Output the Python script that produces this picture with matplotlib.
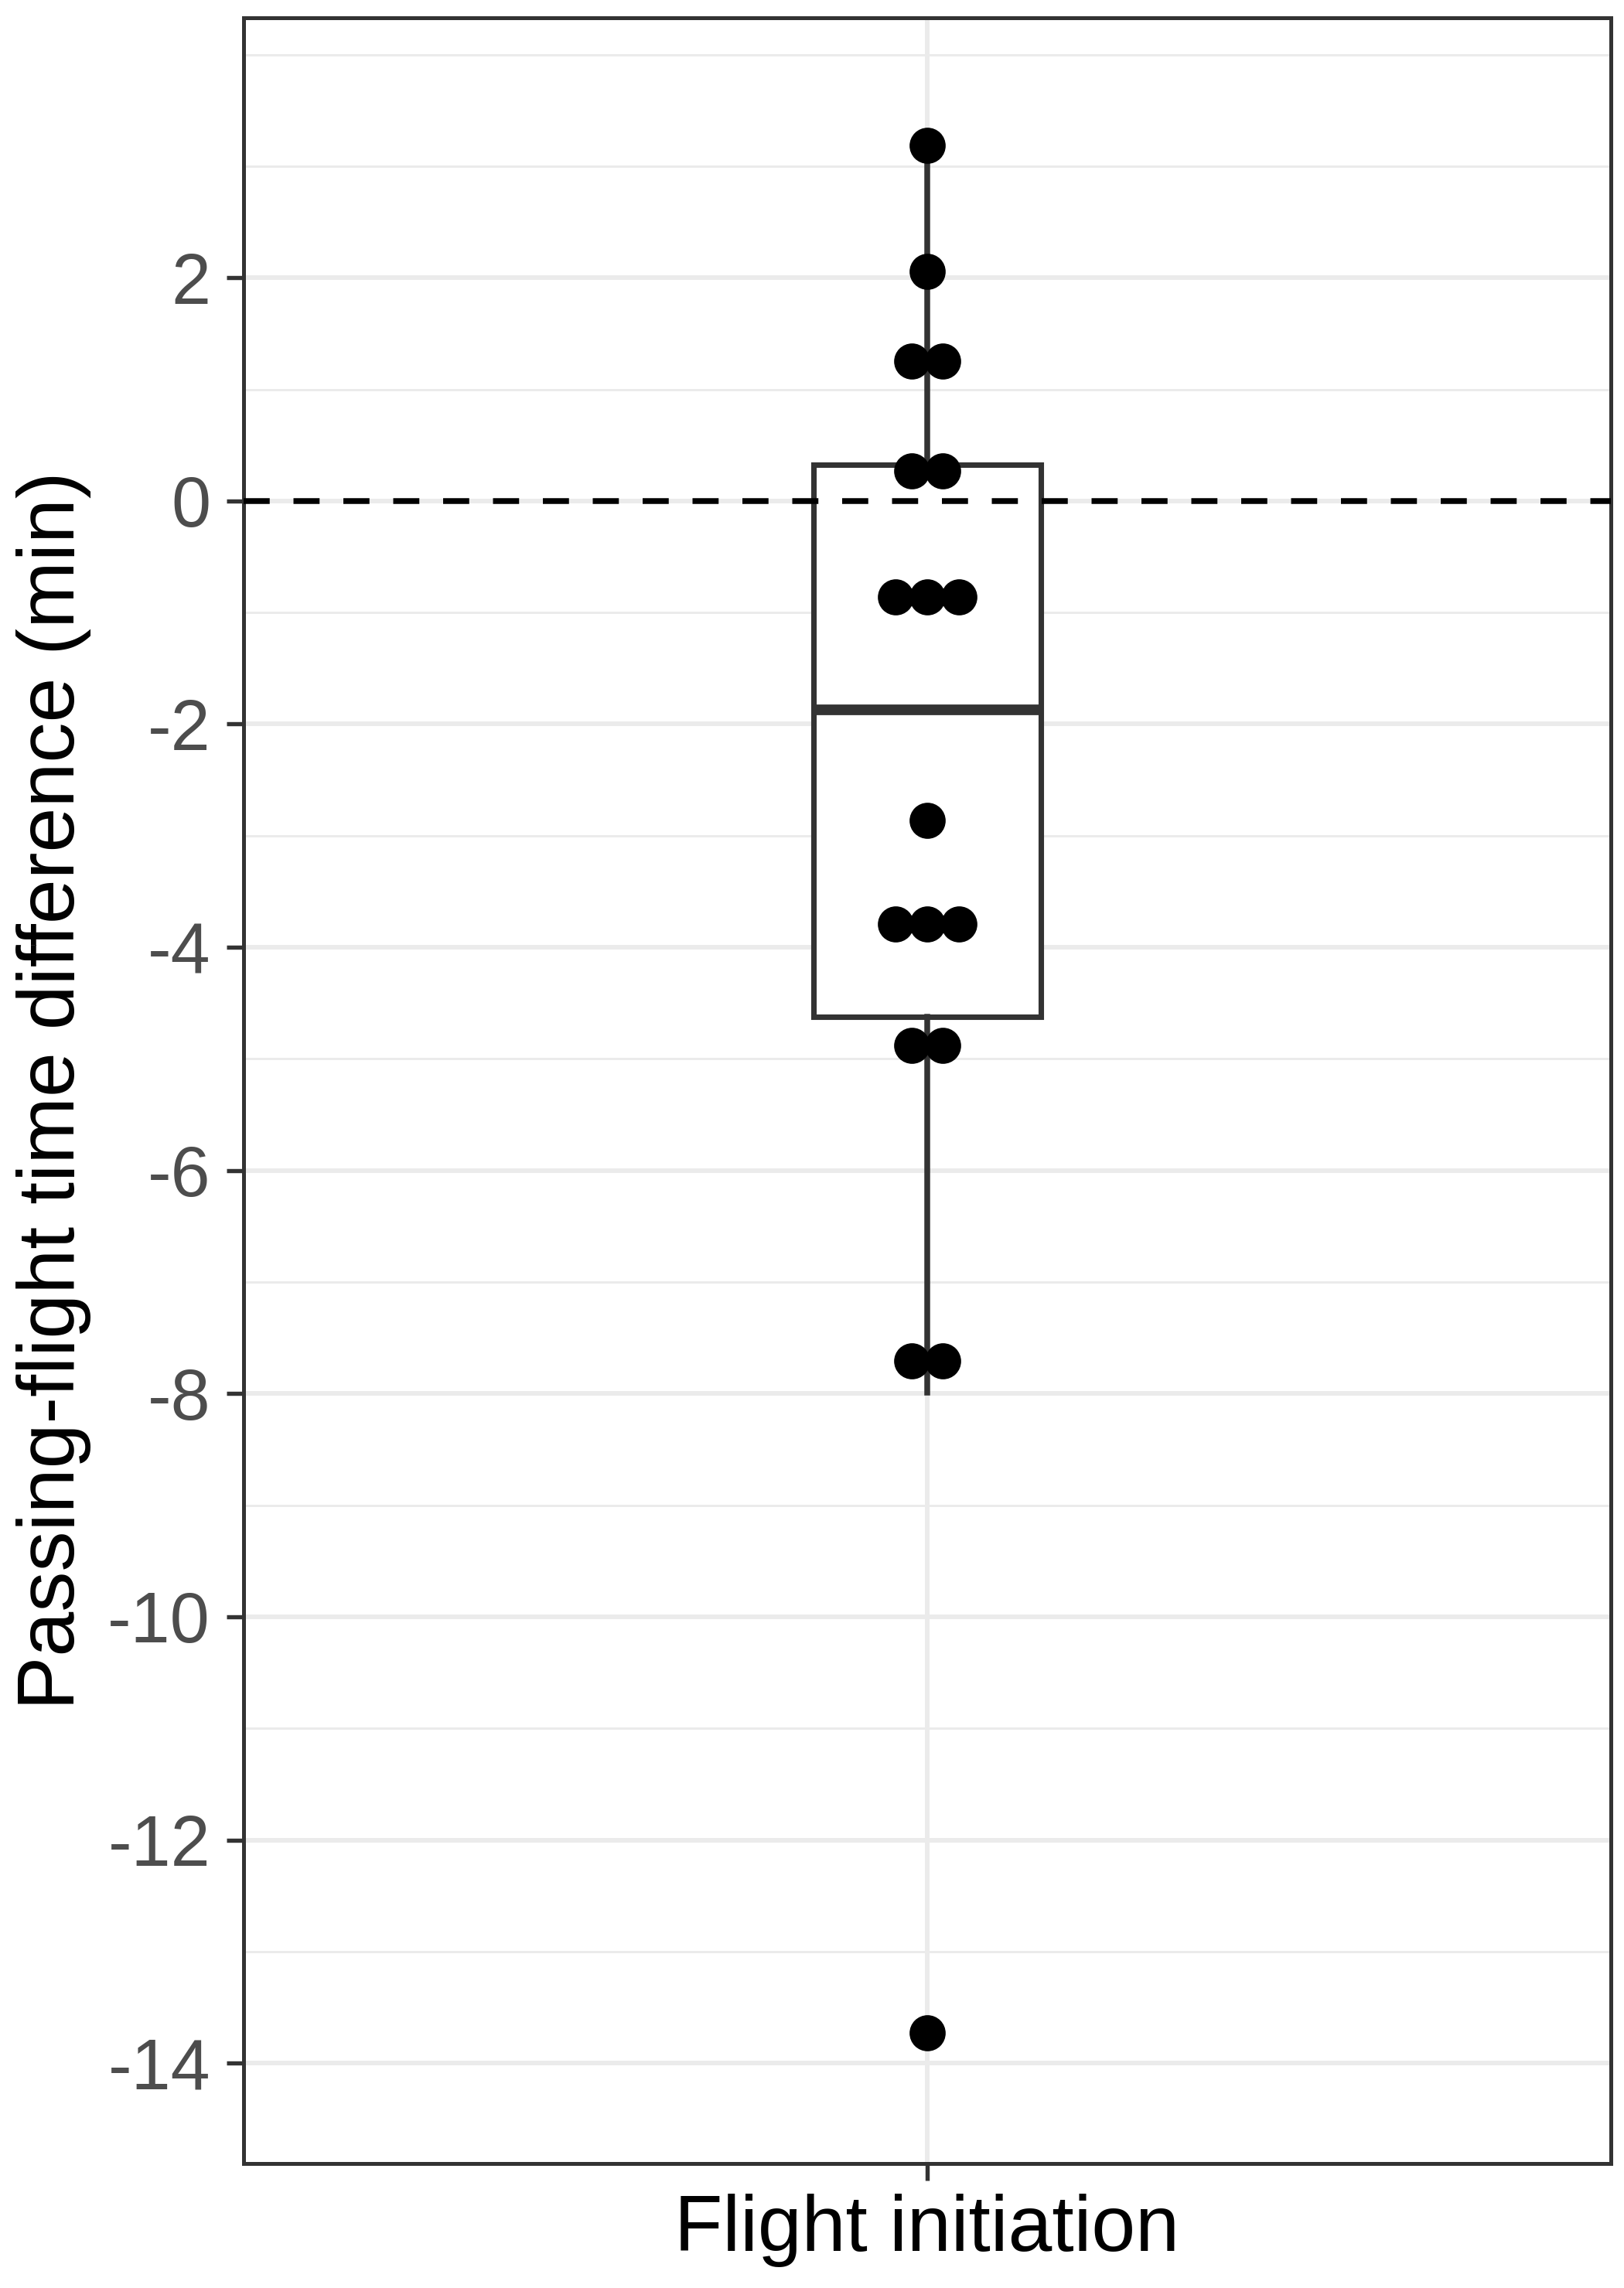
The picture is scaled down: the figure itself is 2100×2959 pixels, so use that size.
import numpy as np
import matplotlib
matplotlib.use("Agg")
import matplotlib.pyplot as plt

plt.rcParams['font.family'] = ['Liberation Sans', 'DejaVu Sans']
plt.rcParams['axes.unicode_minus'] = False

# data
category = "Flight initiation"
ylabel = "Passing-flight time difference (min)"

# dot-plot bins (centres) and how many dots stack in each
dot_levels = [3.19, 2.06, 1.25, 0.27, -0.86, -2.86, -3.79, -4.88, -7.71, -13.73]
dot_counts = [1, 1, 2, 2, 3, 1, 3, 2, 2, 1]

# box statistics
box_q1 = -4.62
box_median = -1.87
box_q3 = 0.325
whisker_low = -7.99
whisker_high = 3.19

ref_line = 0
major_ticks = list(range(-14, 3, 2))
minor_ticks = list(range(-13, 4, 2)) + [4]

grey_line = "#333333"
grid_col = "#EBEBEB"

fig = plt.figure(figsize=(7, 2959 / 300), dpi=300)
ax = fig.add_axes([315 / 2100, 1 - 2798 / 2959, 1768 / 2100, 2775 / 2959])

ax.set_axisbelow(True)

stats = [dict(med=box_median, q1=box_q1, q3=box_q3,
              whislo=whisker_low, whishi=whisker_high, fliers=[])]
ax.bxp(stats, positions=[1], widths=0.2, patch_artist=True, showcaps=False,
       manage_ticks=False,
       boxprops=dict(facecolor='white', edgecolor=grey_line, lw=1.7),
       medianprops=dict(color=grey_line, lw=3.3, solid_capstyle='butt'),
       whiskerprops=dict(color=grey_line, lw=1.8), zorder=2)

ax.axhline(ref_line, color='black', lw=1.8, ls=(0, (4.5, 4.1)), zorder=3)

# stack the dots side by side, centred on the category
dot_step = 0.0275
xs, ys = [], []
for lev, n in zip(dot_levels, dot_counts):
    for k in range(n):
        xs.append(1 + (k - (n - 1) / 2) * dot_step)
        ys.append(lev)
ax.scatter(xs, ys, s=11.2 ** 2, color='black', lw=0, zorder=5)

ax.set_xlim(0.4, 1.6)
ax.set_ylim(-14.9, 4.33)

ax.set_yticks(major_ticks)
ax.set_yticks(minor_ticks, minor=True)
ax.set_xticks([1], labels=[category])

ax.grid(which='major', color=grid_col, lw=1.42)
ax.grid(which='minor', axis='y', color=grid_col, lw=0.71)

for sp in ax.spines.values():
    sp.set_color(grey_line)
    sp.set_linewidth(1.2)

ax.tick_params(axis='y', which='major', labelsize=22, labelcolor='#4D4D4D',
               length=5.3, width=1.3, color=grey_line, pad=5)
ax.tick_params(axis='y', which='minor', length=0)
ax.tick_params(axis='x', labelsize=24.5, labelcolor='black',
               length=5.3, width=1.3, color=grey_line, pad=4)

ax.set_ylabel(ylabel, fontsize=25, color='black', labelpad=5)

fig.savefig("out.png", dpi=300)
